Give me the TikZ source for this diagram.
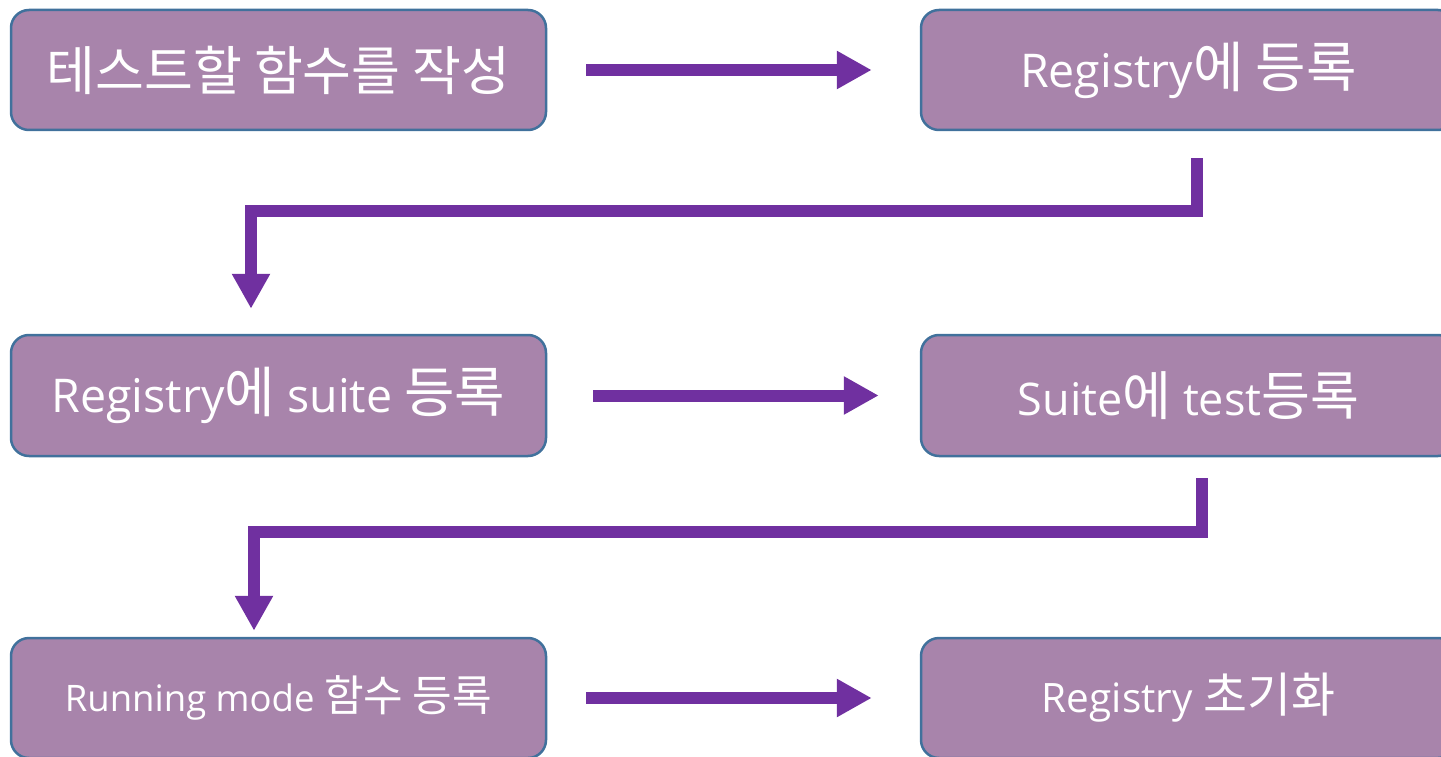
\documentclass[tikz,border=0pt]{standalone}
\usepackage{fontspec}
\setmainfont{Open Sans}
\newfontfamily\kr{Noto Sans CJK KR}[Scale=1.18]
\usetikzlibrary{arrows.meta,calc}
\definecolor{boxfill}{HTML}{A884AB}
\definecolor{boxline}{HTML}{41719C}
\definecolor{flowcol}{HTML}{7030A0}
\tikzset{
  stepbox/.style={draw=boxline, line width=2.5pt, fill=boxfill, rounded corners=18pt,
    minimum width=535pt, minimum height=120pt, inner sep=0pt, text=white, font=\fontsize{45}{50}\selectfont},
  flow/.style={draw=flowcol, line width=12pt, line join=miter,
    -{Triangle[width=36pt,length=35pt]}}
}
\begin{document}
\begin{tikzpicture}[x=1pt,y=-1pt]
\useasboundingbox (0,0) rectangle (1441,757);
\node[stepbox] (b1) at (278.5,70) {\kr 테스트할 함수를 작성};
\node[stepbox, font=\fontsize{46.5}{50}\selectfont] (b2) at (1188.5,70) {Registry{\kr 에 등록}};
\node[stepbox, minimum height=121pt, font=\fontsize{46.5}{50}\selectfont] (b3) at (278.5,395.5) {Registry{\kr 에} suite {\kr 등록}};
\node[stepbox, minimum height=121pt] (b4) at (1188.5,395.5) {Suite{\kr 에} test{\kr 등록}};
\node[stepbox, font=\fontsize{36.5}{40}\selectfont] (b5) at (278.5,698) {Running mode {\kr 함수 등록}};
\node[stepbox, font=\fontsize{40.5}{44}\selectfont] (b6) at (1188.5,698) {Registry {\kr 초기화}};

\draw[flow] ([xshift=39pt]b1.east) -- ([xshift=-48pt]b2.west);
\coordinate (e1s) at ([xshift=8.5pt,yshift=-27pt]b2.south);
\coordinate (e1t) at ([xshift=-27.5pt,yshift=25pt]b3.north);
\draw[flow] (e1s) -- ++(0,53) -| (e1t);
\draw[flow] ([xshift=46pt]b3.east) -- ([xshift=-41pt]b4.west);
\coordinate (e2s) at ([xshift=13.5pt,yshift=-21pt]b4.south);
\coordinate (e2t) at ([xshift=-24.5pt,yshift=6pt]b5.north);
\draw[flow] (e2s) -- ++(0,54) -| (e2t);
\draw[flow] ([xshift=39pt]b5.east) -- ([xshift=-48pt]b6.west);
\end{tikzpicture}
\end{document}
